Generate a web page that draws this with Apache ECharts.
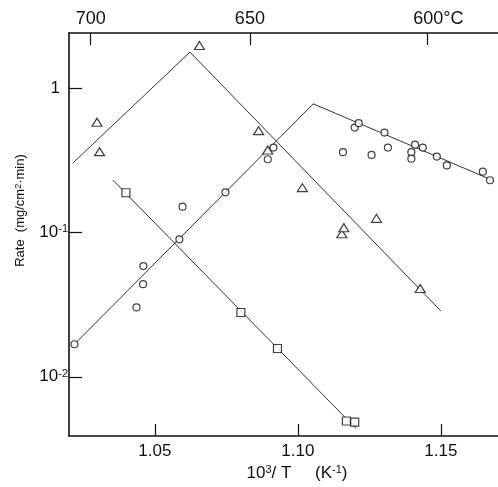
<!DOCTYPE html>
<html>
<head>
<meta charset="utf-8">
<script src="https://cdn.jsdelivr.net/npm/echarts@6/dist/echarts.min.js"></script>
<style>
html, body { margin: 0; padding: 0; background: #fff; }
#chart { width: 498px; height: 487px; }
</style>
</head>
<body>
<div id="chart"></div>
<script>
// 三角形数据点 (10^3/T, rate)
const triangleX = [1.0298, 1.0307, 1.0656, 1.0863, 1.0895, 1.1016, 1.1154, 1.1161, 1.1275, 1.1428];
const triangleY = [0.579, 0.362, 1.968, 0.506, 0.372, 0.204, 0.0978, 0.1076, 0.125, 0.0409];
// 圆形数据点
const circleX = [1.0219, 1.0436, 1.0459, 1.0460, 1.0586, 1.0597, 1.0747, 1.0895, 1.0915, 1.1158, 1.1199, 1.1213,
                 1.1258, 1.1303, 1.1315, 1.1410, 1.1437, 1.1397, 1.1397, 1.1486, 1.1521, 1.1647, 1.1672];
const circleY = [0.0168, 0.0302, 0.0438, 0.0584, 0.0894, 0.1505, 0.1894, 0.3208, 0.386, 0.3588, 0.531, 0.570,
                 0.3436, 0.4906, 0.386, 0.4043, 0.386, 0.3588, 0.3234, 0.3344, 0.2905, 0.2631, 0.2294];
// 方形数据点
const squareX = [1.0399, 1.0801, 1.0929, 1.1170, 1.1199];
const squareY = [0.188, 0.02787, 0.01569, 0.00494, 0.00486];

// 拟合折线
const triangleFitX = [1.0213, 1.0623, 1.1500];
const triangleFitY = [0.301, 1.771, 0.0286];
const circleFitX = [1.0219, 1.1054, 1.1686];
const circleFitY = [0.0168, 0.776, 0.227];
const squareFitX = [1.0353, 1.1204];
const squareFitY = [0.2305, 0.00437];

// 刻度
const bottomTicks = [1.05, 1.10, 1.15];
const topTempC = [700, 650, 600];
const topTicks = topTempC.map(c => 1000 / (c + 273.15));
const yTickLabels = { '1': '{b|1}', '0.1': '10{s|-1}', '0.01': '10{s|-2}' };

const zip = (xs, ys) => xs.map((x, i) => [x, ys[i]]);

const FONT = 'Liberation Sans';
const INK = '#111';
const axisLine = { show: true, lineStyle: { color: INK, width: 1.6 } };

const chart = echarts.init(document.getElementById('chart'), null, { renderer: 'canvas' });

const markerStyle = { color: '#fff', borderColor: INK, borderWidth: 1.2 };
const lineStyle = { color: '#333', width: 1 };

chart.setOption({
    animation: false,
    backgroundColor: '#fff',
    grid: { left: 69, top: 33, width: 432, height: 403 },
    xAxis: [
        {
            type: 'value', position: 'bottom', min: 1.02, max: 1.17,
            axisLine: axisLine,
            axisTick: { show: true, inside: true, length: 12, customValues: bottomTicks, lineStyle: { color: INK, width: 1.2 } },
            axisLabel: {
                customValues: bottomTicks, margin: 7, color: INK, fontFamily: FONT, fontSize: 17,
                formatter: v => v.toFixed(2)
            },
            splitLine: { show: false },
            name: '10{s|3}/ T     (K{s|-1})',
            nameLocation: 'middle', nameGap: 28,
            nameTextStyle: {
                color: INK, fontFamily: FONT, fontSize: 17, padding: [0, 0, 0, 27],
                rich: { s: { fontFamily: FONT, fontSize: 11, verticalAlign: 'top', color: INK } }
            }
        },
        {
            type: 'value', position: 'top', min: 1.02, max: 1.17,
            axisLine: axisLine,
            axisTick: { show: true, inside: true, length: 12, customValues: topTicks, lineStyle: { color: INK, width: 1.2 } },
            axisLabel: {
                customValues: topTicks, margin: 5, color: INK, fontFamily: FONT, fontSize: 18,
                formatter: v => {
                    const c = Math.round(1000 / v - 273.15);
                    return c === 600 ? '{u|600°C}' : String(c);
                },
                rich: { u: { fontFamily: FONT, fontSize: 18, color: INK, padding: [0, 0, 0, 22] } }
            },
            splitLine: { show: false }
        }
    ],
    yAxis: {
        type: 'log', logBase: 10, min: 0.00389, max: 2.40,
        axisLine: axisLine,
        axisTick: { show: true, inside: true, length: 13, lineStyle: { color: INK, width: 1.2 } },
        minorTick: { show: false },
        axisLabel: {
            margin: 1, color: INK, fontFamily: FONT, fontSize: 17,
            showMinLabel: false, showMaxLabel: false,
            formatter: v => {
                const key = String(+v.toPrecision(3));
                return yTickLabels[key] || '';
            },
            rich: {
                b: { fontFamily: FONT, fontSize: 17, color: INK, padding: [0, 8, 0, 0] },
                s: { fontFamily: FONT, fontSize: 11, color: INK, verticalAlign: 'top' }
            }
        },
        splitLine: { show: false },
        name: 'Rate  (mg/cm{s|2}·min)',
        nameLocation: 'middle', nameGap: 42, nameRotate: 90,
        nameTextStyle: {
            color: INK, fontFamily: FONT, fontSize: 13, padding: [0, 0, 0, 48],
            rich: { s: { fontFamily: FONT, fontSize: 9, verticalAlign: 'top', color: INK } }
        }
    },
    series: [
        { type: 'line', data: zip(triangleFitX, triangleFitY), symbol: 'none', lineStyle: lineStyle, z: 2 },
        { type: 'line', data: zip(circleFitX, circleFitY), symbol: 'none', lineStyle: lineStyle, z: 2 },
        { type: 'line', data: zip(squareFitX, squareFitY), symbol: 'none', lineStyle: lineStyle, z: 2 },
        { type: 'scatter', data: zip(triangleX, triangleY), symbol: 'triangle', symbolSize: [10, 8], itemStyle: markerStyle, z: 3 },
        { type: 'scatter', data: zip(circleX, circleY), symbol: 'circle', symbolSize: 7, itemStyle: markerStyle, z: 3 },
        { type: 'scatter', data: zip(squareX, squareY), symbol: 'rect', symbolSize: 8, itemStyle: markerStyle, z: 3 }
    ]
});
</script>
</body>
</html>
